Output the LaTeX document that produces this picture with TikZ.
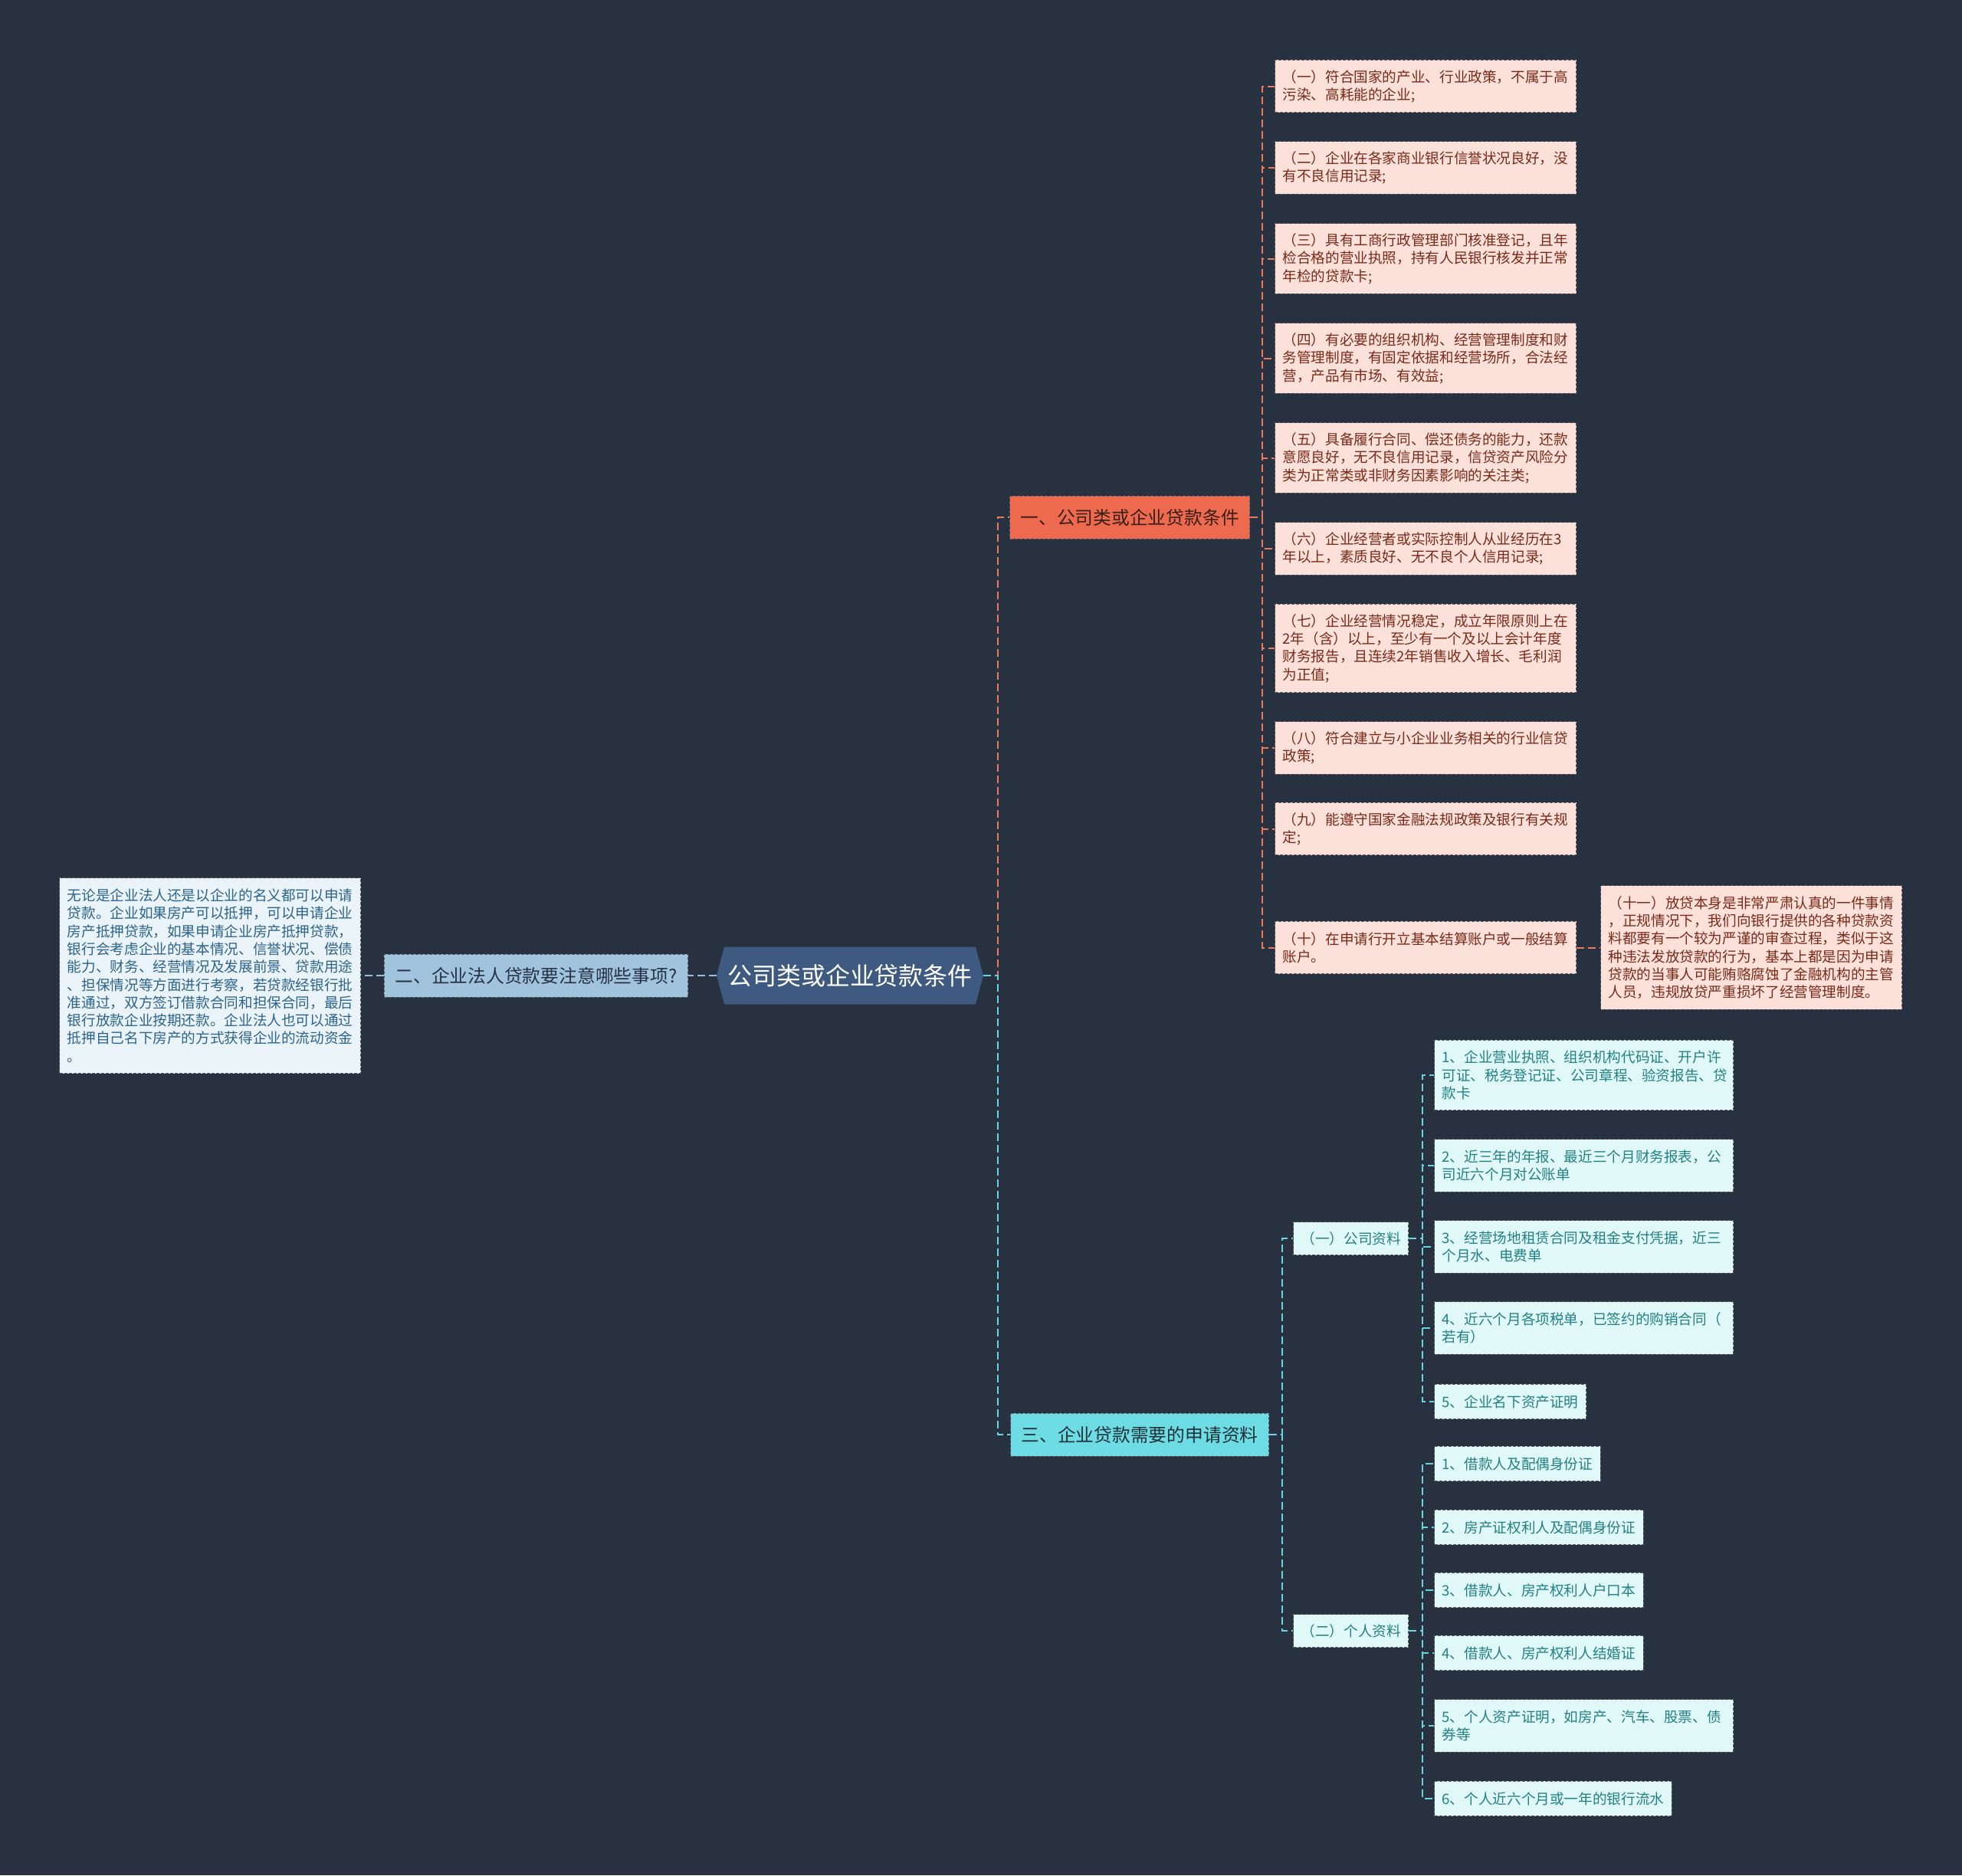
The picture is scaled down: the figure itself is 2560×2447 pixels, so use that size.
\documentclass[tikz,border=0pt]{standalone}
\usepackage{fontspec}
\setmainfont{Noto Sans CJK SC}
\usetikzlibrary{shapes.symbols}

\definecolor{bgcol}{RGB}{40,49,64}
\definecolor{rootcol}{RGB}{62,90,128}
\definecolor{redfill}{RGB}{238,106,78}
\definecolor{redleaf}{RGB}{252,225,218}
\definecolor{redtext}{RGB}{122,42,24}
\definecolor{reddark}{RGB}{58,30,24}
\definecolor{redline}{RGB}{232,122,96}
\definecolor{bluefill}{RGB}{160,196,222}
\definecolor{blueleaf}{RGB}{234,243,248}
\definecolor{bluetext}{RGB}{44,100,140}
\definecolor{bluedark}{RGB}{40,50,66}
\definecolor{blueline}{RGB}{150,192,222}
\definecolor{cyanfill}{RGB}{110,220,228}
\definecolor{cyanleaf}{RGB}{224,248,248}
\definecolor{cyantext}{RGB}{36,128,132}
\definecolor{cyandark}{RGB}{30,50,56}
\definecolor{cyanline}{RGB}{102,212,226}
\definecolor{edgecol}{RGB}{95,95,100}

\newcommand\leaffont{\fontsize{15.9pt}{19.9pt}\selectfont}
\newcommand\topicfont{\fontsize{20.3pt}{24pt}\selectfont}
\newcommand\rootfont{\fontsize{27.3pt}{30pt}\selectfont}

\begin{document}
\begin{tikzpicture}[x=0.3mm, y=-0.3mm,
    rootbox/.style={signal, signal to=east and west, signal pointer angle=150,
      fill=rootcol, text=white, font=\rootfont, inner xsep=0.6mm, inner ysep=0,
      minimum width=104.4mm, minimum height=22.5mm},
    topic/.style={draw=edgecol, line width=0.3mm, dash pattern=on 1.2mm off 0.6mm,
      font=\topicfont, inner xsep=4.2mm, inner ysep=0, minimum height=16.8mm, anchor=west},
    leaf/.style={draw=edgecol, line width=0.3mm, dash pattern=on 1.2mm off 0.6mm,
      font=\leaffont, align=left, inner xsep=3mm, inner ysep=0, anchor=west},
    nrows/.style={minimum height={(22+23.3*#1)*0.3mm}},
    redbox/.style={leaf, fill=redleaf, text=redtext, text width=111.9mm},
    bluebox/.style={leaf, fill=blueleaf, text=bluetext},
    cyanbox/.style={leaf, fill=cyanleaf, text=cyantext},
    cyanwide/.style={cyanbox, text width=111mm},
    conn/.style={line width=0.6mm, dash pattern=on 3mm off 1.5mm},
    redconn/.style={conn, draw=redline},
    blueconn/.style={conn, draw=blueline},
    cyanconn/.style={conn, draw=cyanline}]
  \fill[bgcol] (0,0) rectangle (2560,2447);
  \useasboundingbox (0,0) rectangle (2560,2447);

  % centre
  \node[rootbox] (root) at (1109,1273) {公司类或企业贷款条件};

  % left side
  \node[topic, fill=bluefill, text=bluedark, anchor=east] (warn) at (898,1273) {二、企业法人贷款要注意哪些事项?};
  \node[bluebox, anchor=east, nrows=10] (note) at (471,1273) {无论是企业法人还是以企业的名义都可以申请\\贷款。企业如果房产可以抵押，可以申请企业\\房产抵押贷款，如果申请企业房产抵押贷款，\\银行会考虑企业的基本情况、信誉状况、偿债\\能力、财务、经营情况及发展前景、贷款用途\\、担保情况等方面进行考察，若贷款经银行批\\准通过，双方签订借款合同和担保合同，最后\\银行放款企业按期还款。企业法人也可以通过\\抵押自己名下房产的方式获得企业的流动资金\\。};

  % branch one
  \node[topic, fill=redfill, text=reddark] (cond) at (1317,675) {一、公司类或企业贷款条件};
  \node[redbox, nrows=2] (c1) at (1663,112.5) {（一）符合国家的产业、行业政策，不属于高\\污染、高耗能的企业;};
  \node[redbox, nrows=2] (c2) at (1663,219) {（二）企业在各家商业银行信誉状况良好，没\\有不良信用记录;};
  \node[redbox, nrows=3] (c3) at (1663,337.5) {（三）具有工商行政管理部门核准登记，且年\\检合格的营业执照，持有人民银行核发并正常\\年检的贷款卡;};
  \node[redbox, nrows=3] (c4) at (1663,467.5) {（四）有必要的组织机构、经营管理制度和财\\务管理制度，有固定依据和经营场所，合法经\\营，产品有市场、有效益;};
  \node[redbox, nrows=3] (c5) at (1663,597.5) {（五）具备履行合同、偿还债务的能力，还款\\意愿良好，无不良信用记录，信贷资产风险分\\类为正常类或非财务因素影响的关注类;};
  \node[redbox, nrows=2] (c6) at (1663,716) {（六）企业经营者或实际控制人从业经历在3\\年以上，素质良好、无不良个人信用记录;};
  \node[redbox, nrows=4] (c7) at (1663,846) {（七）企业经营情况稳定，成立年限原则上在\\2年（含）以上，至少有一个及以上会计年度\\财务报告，且连续2年销售收入增长、毛利润\\为正值;};
  \node[redbox, nrows=2] (c8) at (1663,976) {（八）符合建立与小企业业务相关的行业信贷\\政策;};
  \node[redbox, nrows=2] (c9) at (1663,1081.5) {（九）能遵守国家金融法规政策及银行有关规\\定;};
  \node[redbox, nrows=2] (c10) at (1663,1236.5) {（十）在申请行开立基本结算账户或一般结算\\账户。};
  \node[redbox, nrows=6] (c11) at (2088,1236.5) {（十一）放贷本身是非常严肃认真的一件事情\\，正规情况下，我们向银行提供的各种贷款资\\料都要有一个较为严谨的审查过程，类似于这\\种违法发放贷款的行为，基本上都是因为申请\\贷款的当事人可能贿赂腐蚀了金融机构的主管\\人员，违规放贷严重损坏了经营管理制度。};

  % branch three
  \node[topic, fill=cyanfill, text=cyandark] (need) at (1318,1872) {三、企业贷款需要的申请资料};
  \node[cyanbox, minimum height=12.9mm] (firm) at (1687,1616) {（一）公司资料};
  \node[cyanbox, minimum height=12.9mm] (pers) at (1687,2128) {（二）个人资料};
  \node[cyanwide, nrows=3] (f1) at (1871,1403) {1、企业营业执照、组织机构代码证、开户许\\可证、税务登记证、公司章程、验资报告、贷\\款卡};
  \node[cyanwide, nrows=2] (f2) at (1871,1521) {2、近三年的年报、最近三个月财务报表，公\\司近六个月对公账单};
  \node[cyanwide, nrows=2] (f3) at (1871,1627) {3、经营场地租赁合同及租金支付凭据，近三\\个月水、电费单};
  \node[cyanwide, nrows=2] (f4) at (1871,1733) {4、近六个月各项税单，已签约的购销合同（\\若有）};
  \node[cyanbox, nrows=1] (f5) at (1871,1829) {5、企业名下资产证明};
  \node[cyanbox, nrows=1] (p1) at (1871,1910) {1、借款人及配偶身份证};
  \node[cyanbox, nrows=1] (p2) at (1871,1993) {2、房产证权利人及配偶身份证};
  \node[cyanbox, nrows=1] (p3) at (1871,2075) {3、借款人、房产权利人户口本};
  \node[cyanbox, nrows=1] (p4) at (1871,2157) {4、借款人、房产权利人结婚证};
  \node[cyanwide, nrows=2] (p5) at (1871,2252) {5、个人资产证明，如房产、汽车、股票、债\\券等};
  \node[cyanbox, nrows=1] (p6) at (1871,2347) {6、个人近六个月或一年的银行流水};

  % connectors
  \draw[blueconn] (root.west) -- (warn.east);
  \draw[blueconn] (warn.west) -- (note.east);
  \draw[redconn] (root.east) -- ++(19,0) |- (cond.west);
  \draw[cyanconn] (root.east) -- ++(19,0) |- (need.west);
  \foreach \n in {c1,c2,c3,c4,c5,c6,c7,c8,c9,c10}
    \draw[redconn] (cond.east) -- ++(16,0) |- (\n.west);
  \draw[redconn] (c10.east) -- (c11.west);
  \foreach \n in {firm,pers}
    \draw[cyanconn] (need.east) -- ++(17,0) |- (\n.west);
  \foreach \n in {f1,f2,f3,f4,f5}
    \draw[cyanconn] (firm.east) -- ++(18,0) |- (\n.west);
  \foreach \n in {p1,p2,p3,p4,p5,p6}
    \draw[cyanconn] (pers.east) -- ++(18,0) |- (\n.west);
\end{tikzpicture}
\end{document}
